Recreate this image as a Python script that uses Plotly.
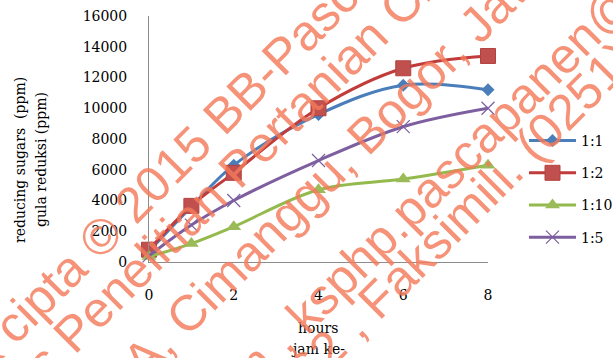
import math
import plotly.graph_objects as go

# Reducing sugar concentration over hydrolysis time, for four ratios
hours = [0, 1, 2, 4, 6, 8]
series_names = ["1:1", "1:2", "1:10", "1:5"]
sugar_1_1 = [700, 3600, 6300, 9600, 11500, 11200]
sugar_1_2 = [800, 3650, 5800, 10000, 12600, 13400]
sugar_1_10 = [350, 1200, 2300, 4700, 5400, 6300]
sugar_1_5 = [400, 2400, 4000, 6600, 8800, 10000]
x_ticks = [0, 2, 4, 6, 8]
y_ticks = [0, 2000, 4000, 6000, 8000, 10000, 12000, 14000, 16000]

W, H = 613, 358
PL, PR, PT, PB = 149, 125, 16, 96   # plot-area margins in px
SERIF = "DejaVu Serif"

styles = {
    "1:1": dict(line="#4A7EBB", marker=dict(symbol="diamond", size=10, color="#4A7EBB")),
    "1:2": dict(line="#C23B3B", marker=dict(symbol="square", size=15, color="#C0504D",
                                          line=dict(color="#B4413E", width=1))),
    "1:10": dict(line="#94BA4E", marker=dict(symbol="triangle-up", size=13, color="#9BBB59")),
    "1:5": dict(line="#7D5FA0", marker=dict(symbol="x-thin-open", size=13,
                                          line=dict(color="#9C88C2", width=1.2))),
}
values = {"1:1": sugar_1_1, "1:2": sugar_1_2, "1:10": sugar_1_10, "1:5": sugar_1_5}

fig = go.Figure()
for name in series_names:
    st = styles[name]
    fig.add_trace(go.Scatter(
        x=hours, y=values[name], name=name, legendgroup=name,
        mode="lines+markers",
        line=dict(color=st["line"], width=3, shape="spline", smoothing=1),
        marker=st["marker"], cliponaxis=False,
    ))

def paper_x(px):
    return (px - PL) / (W - PL - PR)

def paper_y(py):
    return (H - PB - py) / (H - PT - PB)

annotations = []
# axis titles
axis_titles = [
    ("reducing sugars  (ppm)", 20, 160, -90),
    ("gula reduksi (ppm)", 41, 160, -90),
    ("hours", 318, 328, 0),
    ("jam ke-", 318, 349, 0),
]
for text, px, py, ang in axis_titles:
    annotations.append(dict(text=text, x=paper_x(px), y=paper_y(py), xref="paper", yref="paper",
                            showarrow=False, textangle=ang, xanchor="center", yanchor="middle",
                            font=dict(family=SERIF, size=14, color="#000")))

# diagonal copyright watermark
WM_SIZE = 50
WM_ANGLE = 45
widths = {' ': .278, ',': .278, '.': .278, ':': .278, '(': .333, ')': .333, '-': .333,
          '_': .556, '@': 1.015, '©': .737, 'a': .556, 'b': .556, 'c': .5, 'd': .556,
          'e': .556, 'f': .278, 'g': .556, 'h': .556, 'i': .222, 'j': .222, 'k': .5,
          'l': .222, 'm': .833, 'n': .556, 'o': .556, 'p': .556, 'r': .333, 's': .5,
          't': .278, 'u': .556, 'w': .722, 'y': .5, 'A': .667, 'B': .667, 'C': .722,
          'F': .611, 'H': .722, 'J': .5, 'K': .667, 'N': .722, 'P': .667, 'T': .611}

def cw(ch):
    return widths.get(ch, .556) * WM_SIZE

watermark = [
    ("Hak cipta © 2015 BB-Pascapanen", "©", (101, 236)),
    ("Kampus Penelitian Pertanian Cimanggu", "P", (74, 332)),
    ("Tentara Pelajar No. 12 A, Cimanggu, Bogor, Jawa Barat", "C", (190, 312)),
    ("bb_pascapanen@yahoo.com , ksphp.pascapanen@yahoo.com", "k", (304, 315)),
    ("Telp. (0251) 8321762 , Faksimili. (0251) 8350920", "F", (380, 297)),
]
dx, dy = math.cos(math.radians(WM_ANGLE)), -math.sin(math.radians(WM_ANGLE))
for text, ref, (rx, ry) in watermark:
    i = text.index(ref)
    s_ref = sum(cw(c) for c in text[:i]) + cw(ref) / 2
    total = sum(cw(c) for c in text)
    shift = total / 2 - s_ref
    cx, cy = rx + shift * dx, ry + shift * dy
    annotations.append(dict(text=text, x=paper_x(cx), y=paper_y(cy), xref="paper", yref="paper",
                            showarrow=False, textangle=-WM_ANGLE, xanchor="center", yanchor="middle",
                            font=dict(family="Liberation Sans", size=WM_SIZE,
                                      color="rgba(243,122,90,0.82)")))

fig.update_layout(
    width=W, height=H,
    margin=dict(l=PL, r=PR, t=PT, b=PB, pad=0, autoexpand=False),
    paper_bgcolor="white", plot_bgcolor="white",
    font=dict(family=SERIF, size=14, color="#000"),
    xaxis=dict(range=[0, 8], tickvals=x_ticks, showgrid=False, zeroline=False,
               showline=True, linecolor="#8C8C8C", linewidth=1, ticks="",
               ticklabelstandoff=20, tickfont=dict(family=SERIF, size=14)),
    yaxis=dict(range=[0, 16000], tickvals=y_ticks, tickformat="d", showgrid=False,
               zeroline=False, showline=True, linecolor="#8C8C8C", linewidth=1, ticks="",
               ticklabelstandoff=18, tickfont=dict(family=SERIF, size=14)),
    legend=dict(x=paper_x(524), y=paper_y(125), xanchor="left", yanchor="top",
                traceorder="grouped", tracegroupgap=11, itemwidth=47,
                font=dict(family=SERIF, size=14), bgcolor="rgba(0,0,0,0)"),
    showlegend=True,
    annotations=annotations,
)

fig.write_html("out.html")
